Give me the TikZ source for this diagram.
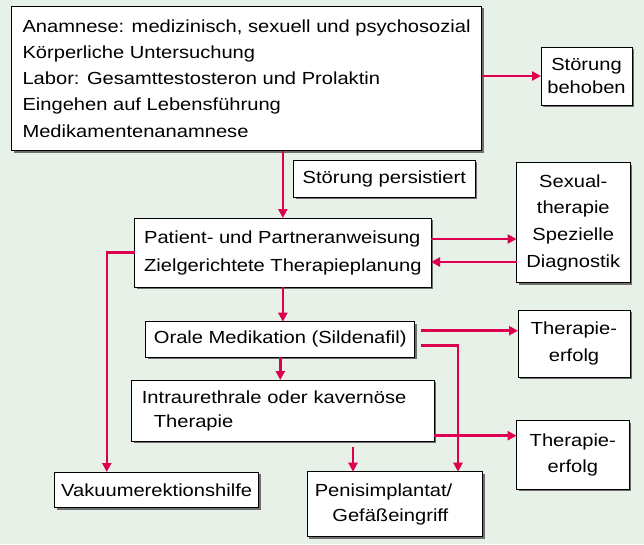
\documentclass[tikz,border=0pt]{standalone}
\usepackage{fontspec}
\setmainfont{Liberation Sans}[FakeStretch=1.15]
\usetikzlibrary{arrows.meta,shadows,calc}
\definecolor{bgc}{RGB}{231,241,231}
\definecolor{redc}{RGB}{222,0,78}
\definecolor{shc}{RGB}{110,110,110}
\tikzset{
  box/.style={draw=black, line width=0.9pt, fill=white, inner sep=0pt, outer sep=0pt,
    font=\fontsize{17.5}{26.3}\selectfont,
    drop shadow={shadow xshift=2.2pt, shadow yshift=-2.2pt, fill=shc, opacity=1}},
  arr/.style={draw=redc, line width=2.6pt, -{Triangle[length=9pt,width=9pt]}},
  ln/.style={draw=redc, line width=2.6pt}
}
\begin{document}
\begin{tikzpicture}[x=1pt,y=-1pt]
\useasboundingbox[fill=bgc] (0,0) rectangle (644,544);
% boxes
\node[box, minimum width=470.2pt, minimum height=144.7pt, align=left] (A) at (246.6,78.35)
  {Anamnese: medizinisch, sexuell und psychosozial\\Körperliche Untersuchung\\Labor: Gesamttestosteron und Prolaktin\\Eingehen auf Lebensführung\\Medikamentenanamnese};
\node[box, minimum width=91pt, minimum height=58pt, align=center, font=\fontsize{17.5}{23.3}\selectfont] (behoben) at (586.5,76) {Störung\\behoben};
\node[box, minimum width=181.4pt, minimum height=37pt] (persist) at (384.3,178.5) {Störung persistiert};
\node[box, minimum width=113.4pt, minimum height=120pt, align=center, font=\fontsize{17.5}{26.7}\selectfont] (sexual) at (573.3,222.7) {Sexual-\\therapie\\Spezielle\\Diagnostik};
\node[box, minimum width=296.3pt, minimum height=69pt, align=left, font=\fontsize{17.5}{28}\selectfont] (patient) at (282.85,252.5) {Patient- und Partneranweisung\\Zielgerichtete Therapieplanung};
\node[box, minimum width=269pt, minimum height=35.3pt] (orale) at (280.3,339.35) {Orale Medikation (Sildenafil)};
\node[box, minimum width=112pt, minimum height=67pt, align=center] (erfolgA) at (574,343.5) {Therapie-\\erfolg};
\node[box, minimum width=302.2pt, minimum height=61pt, align=left, text width=282pt, font=\fontsize{17.5}{24}\selectfont] (intra) at (282.9,410.5) {Intraurethrale oder kavernöse\\\hspace*{12pt}Therapie};
\node[box, minimum width=112.4pt, minimum height=68.3pt, align=center] (erfolgB) at (572.8,454.85) {Therapie-\\erfolg};
\node[box, minimum width=204.1pt, minimum height=35.7pt] (vakuum) at (156.65,489.85) {Vakuumerektionshilfe};
\node[box, minimum width=175.5pt, minimum height=65pt, align=left, text width=160pt, font=\fontsize{17.5}{25}\selectfont] (penis) at (394.75,504.2) {Penisimplantat/\\\hspace*{17.6pt}Gefäßeingriff};
% connectors
\draw[arr] (A.east |- behoben.west) -- (behoben.west);
\draw[arr] (A.south -| patient.north) -- (patient.north);
\coordinate (p1) at ([yshift=13.5pt]patient.east);
\draw[arr] (p1) -- (p1 -| sexual.west);
\coordinate (s1) at ([yshift=-39.3pt]sexual.west);
\draw[arr] (s1) -- (s1 -| patient.east);
\coordinate (vk) at ([xshift=-49.85pt]vakuum.north);
\draw[arr] (patient.west) -| (vk);
\draw[arr] (patient.south) -- (patient.south |- orale.north);
\coordinate (o1) at ([yshift=8.65pt,xshift=6pt]orale.east);
\draw[arr] (o1) -- (o1 -| erfolgA.west);
\coordinate (o2) at ([yshift=-6.35pt,xshift=6pt]orale.east);
\coordinate (pn2) at ([xshift=63.25pt]penis.north);
\draw[arr] (o2) -| (pn2);
\draw[arr] (orale.south) -- (orale.south |- intra.north);
\coordinate (i1) at ([yshift=-25.2pt]intra.east);
\draw[arr] (i1) -- (i1 -| erfolgB.west);
\coordinate (pn1) at ([xshift=-41.75pt]penis.north);
\coordinate (i2) at ([yshift=-5.7pt]intra.south -| pn1);
\draw[arr] (i2) -- (pn1);
\end{tikzpicture}
\end{document}
